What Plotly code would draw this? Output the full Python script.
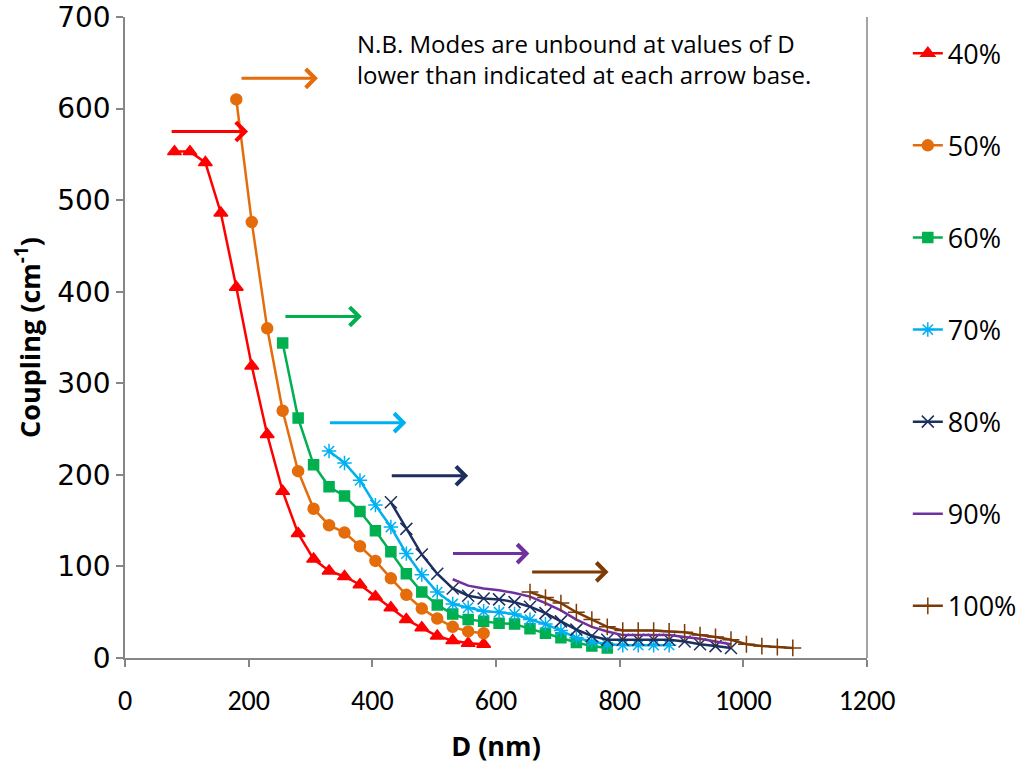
import plotly.graph_objects as go

# Coupling strength versus separation D for each fill fraction
D_40 = [80, 105, 130, 155, 180, 205, 230, 255, 280, 305, 330, 355, 380, 405, 430, 455, 480, 505, 530, 555, 580]
C_40 = [553, 553, 541, 486, 405, 319, 244, 182, 136, 108, 95, 89, 80, 67, 55, 42, 33, 24, 19, 16, 15]

D_50 = [180, 205, 230, 255, 280, 305, 330, 355, 380, 405, 430, 455, 480, 505, 530, 555, 580]
C_50 = [610, 476, 360, 270, 204, 163, 145, 137, 122, 106, 87, 69, 54, 43, 34, 29, 27]

D_60 = [255, 280, 305, 330, 355, 380, 405, 430, 455, 480, 505, 530, 555, 580, 605, 630, 655, 680, 705, 730, 755, 780]
C_60 = [344, 262, 211, 187, 177, 160, 139, 116, 92, 72, 58, 48, 42, 40, 38, 37, 32, 27, 22, 17, 13, 11]

D_70 = [330, 355, 380, 405, 430, 455, 480, 505, 530, 555, 580, 605, 630, 655, 680, 705, 730, 755, 780, 805, 830, 855, 880]
C_70 = [226, 213, 194, 167, 143, 114, 91, 72, 59, 55, 51, 50, 48, 42, 37, 30, 22, 18, 15, 14, 14, 14, 14]

D_80 = [430, 455, 480, 505, 530, 555, 580, 605, 630, 655, 680, 705, 730, 755, 780, 805, 830, 855, 880, 905, 930, 955, 980]
C_80 = [170, 141, 113, 92, 76, 68, 65, 64, 61, 56, 49, 40, 31, 24, 20, 20, 20, 20, 20, 18, 15, 13, 11]

D_90 = [530, 555, 580, 605, 630, 655, 680, 705, 730, 755, 780, 805, 830, 855, 880, 905, 930, 955, 980]
C_90 = [86, 79, 76, 74, 71, 67, 60, 52, 42, 34, 29, 25, 25, 25, 25, 23, 21, 18, 15]

D_100 = [655, 680, 705, 730, 755, 780, 805, 830, 855, 880, 905, 930, 955, 980, 1005, 1030, 1055, 1080]
C_100 = [72, 66, 60, 50, 42, 34, 30, 30, 30, 29, 28, 25, 23, 20, 15, 13, 12, 11]

LABELS = ["40%", "50%", "60%", "70%", "80%", "90%", "100%"]

# Arrows: start of the bound region for each series, arrow level and length
ARROW_START = [73, 186, 257, 329, 429, 528, 656]
ARROW_LEVEL = [575, 633, 373, 257, 199, 114, 94]
ARROW_LENGTH = 126

X_TICKS = [0, 200, 400, 600, 800, 1000, 1200]
Y_TICKS = [0, 100, 200, 300, 400, 500, 600, 700]

COLORS = ["#FF0000", "#E46C0A", "#00B050", "#00B0F0", "#1C2F5E", "#7030A0", "#7B3A06"]
SYMBOLS = ["triangle-up", "circle", "square", "asterisk-open", "x-thin-open", None, "cross-thin-open"]
SIZES = [12, 11, 10, 12, 12, 0, 12]

series = [(D_40, C_40), (D_50, C_50), (D_60, C_60), (D_70, C_70),
          (D_80, C_80), (D_90, C_90), (D_100, C_100)]

CAL = "Carlito, Calibri, Lato, sans-serif"
OPEN = "Open Sans, sans-serif"

fig = go.Figure()
for i, ((d, c), name) in enumerate(zip(series, LABELS)):
    marker = dict(color=COLORS[i], size=SIZES[i])
    if SYMBOLS[i]:
        marker["symbol"] = SYMBOLS[i]
        marker["line"] = dict(color=COLORS[i], width=1.5)
    fig.add_trace(go.Scatter(
        x=d, y=c, name=name, legendgroup=name,
        mode="lines+markers" if SYMBOLS[i] else "lines",
        line=dict(color=COLORS[i], width=2.5),
        marker=marker,
    ))

for start, level, col in zip(ARROW_START, ARROW_LEVEL, COLORS):
    fig.add_annotation(
        x=start + ARROW_LENGTH, y=level, ax=start, ay=level,
        xref="x", yref="y", axref="x", ayref="y",
        showarrow=True, arrowhead=4, arrowsize=1.2, arrowwidth=3,
        arrowcolor=col, text="",
    )

fig.add_annotation(
    x=(355 - 125) / 742, y=1.0 - 8 / 641, xref="paper", yref="paper",
    xanchor="left", yanchor="top", align="left", showarrow=False,
    text="N.B. Modes are unbound at values of D<br>lower than indicated at each arrow base.",
    font=dict(family=OPEN, size=24, color="#000000"),
)

# right-hand border of the plotting area
fig.add_shape(type="line", xref="paper", yref="paper", x0=1, x1=1, y0=0, y1=1,
              line=dict(color="#868686", width=1.5))

fig.update_layout(
    width=1021, height=764,
    margin=dict(l=125, r=154, t=17, b=106, autoexpand=False),
    paper_bgcolor="white", plot_bgcolor="white",
    showlegend=True,
    legend=dict(x=1.055, y=0.981, xanchor="left", yanchor="top",
                font=dict(family=OPEN, size=27, color="#000000"),
                tracegroupgap=54, bgcolor="rgba(0,0,0,0)"),
    xaxis=dict(
        range=[0, 1200], tickvals=X_TICKS, ticktext=[str(v) for v in X_TICKS],
        showgrid=False, zeroline=False, showline=True, linecolor="#868686", linewidth=1.5,
        ticks="outside", ticklen=7, tickcolor="#868686", tickwidth=1.5,
        tickfont=dict(family=CAL, size=28, color="#000000"),
        ticklabelstandoff=10, automargin=False,
        title=dict(text="D (nm)", font=dict(family=OPEN, size=27, color="#000000", weight="bold"),
                   standoff=22),
    ),
    yaxis=dict(
        range=[0, 700], tickvals=Y_TICKS, ticktext=[str(v) for v in Y_TICKS],
        showgrid=False, zeroline=False, showline=True, linecolor="#868686", linewidth=1.5,
        ticks="outside", ticklen=7, tickcolor="#868686", tickwidth=1.5,
        tickfont=dict(family="DejaVu Sans", size=28, color="#000000"),
        automargin=False,
        title=dict(text="Coupling (cm<sup>-1</sup>)",
                   font=dict(family=OPEN, size=27, color="#000000", weight="bold"),
                   standoff=9),
    ),
)

fig.write_html("out.html")
